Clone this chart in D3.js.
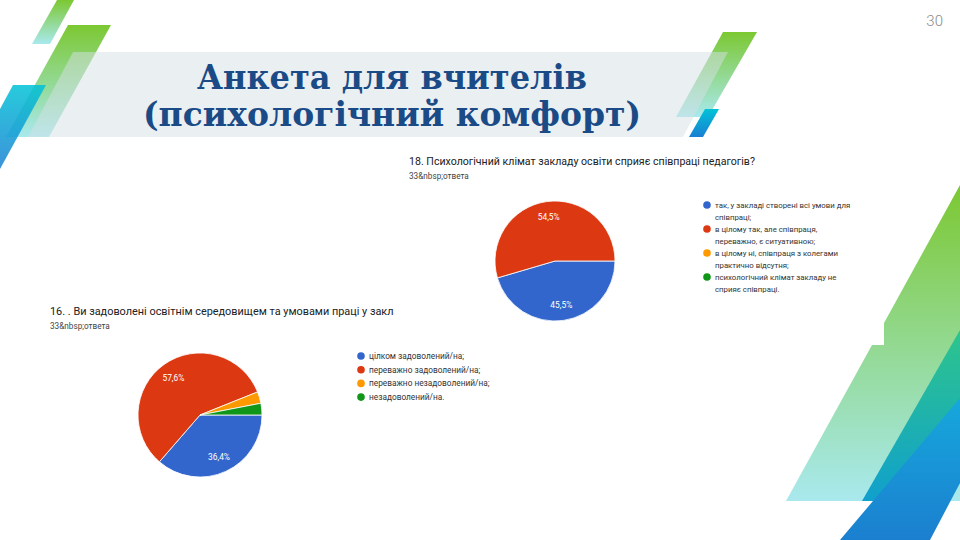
<!DOCTYPE html>
<html>
<head>
<meta charset="utf-8">
<script src="https://cdn.jsdelivr.net/npm/d3@7"></script>
<style>
  html, body { margin: 0; padding: 0; background: #fff; }
  svg { display: block; }
</style>
</head>
<body>
<div id="slide"></div>
<script>
// --- data -------------------------------------------------------------
const sliceColors = ["#3366cc", "#dc3912", "#ff9900", "#109618"];

const q18Title = "18.  Психологічний клімат закладу освіти сприяє співпраці педагогів?";
const q18Labels = [
  ["так, у закладі створені всі умови для", "співпраці;"],
  ["в цілому так, але співпраця,", "переважно, є ситуативною;"],
  ["в цілому ні, співпраця з колегами", "практично відсутня;"],
  ["психологічний клімат закладу не", "сприяє співпраці."]
];
const q18Values = [15, 18, 0, 0];

const q16Title = "16. . Ви задоволені освітнім середовищем та умовами праці у закладі?";
const q16Labels = [
  ["цілком задоволений/на;"],
  ["переважно задоволений/на;"],
  ["переважно незадоволений/на;"],
  ["незадоволений/на."]
];
const q16Values = [12, 19, 1, 1];

const answersText = "33&nbsp;ответа";
const slideTitle = ["Анкета для вчителів", "(психологічний комфорт)"];
const pageNumber = "30";

// --- decorative shapes (not data) ------------------------------------
const shapes = [
  {fill: "gLime", pts: [[57,0],[74,0],[50,44],[32,44]]},
  {fill: "gLime", pts: [[68,25],[111,25],[49,137],[6,137]]},
  {fill: "gBlue", pts: [[13,85],[46,85],[0,169],[0,109]], op: 0.85},
  {fill: "gLime", pts: [[723,32],[757,32],[708,117],[676,117]]},
  {fill: "gBlue", pts: [[705,109],[719,109],[703,137],[689,137]]},
  {fill: "gLimeBig", pts: [[960,185],[884,323],[884,345],[872,345],[786,501],[960,501]]},
  {fill: "gTeal", pts: [[960,330],[862,501],[908,501],[960,410]]},
  {fill: "gBlueBig", pts: [[960,398],[840,540],[930,540],[960,483]]}
];
const banner = [[73,52],[728,52],[683,137],[28,137]];

const width = 960;
const height = 540;

const svg = d3.select("#slide").append("svg")
    .attr("width", width)
    .attr("height", height)
    .attr("viewBox", [0, 0, width, height]);

const defs = svg.append("defs");

function linear(id, stops) {
  const g = defs.append("linearGradient")
      .attr("id", id)
      .attr("x1", 0).attr("y1", 0).attr("x2", 0).attr("y2", 1);
  stops.forEach(([o, c]) => g.append("stop").attr("offset", o).attr("stop-color", c));
}
linear("gLime", [[0, "#7cc832"], [1, "#a8e9ee"]]);
linear("gLimeBig", [[0, "#7cc832"], [1, "#a9e9ee"]]);
linear("gBlue", [[0, "#00c2d6"], [1, "#1a7fd3"]]);
linear("gTeal", [[0, "#2ec58c"], [1, "#10a0cc"]]);
linear("gBlueBig", [[0, "#16a8dc"], [1, "#1b7fcf"]]);

defs.append("clipPath")
    .attr("id", "clipQ16")
    .append("rect")
    .attr("x", 0).attr("y", 290).attr("width", 394).attr("height", 40);

const line = d3.line();

svg.append("g")
  .selectAll("path")
  .data(shapes)
  .join("path")
    .attr("d", d => line(d.pts) + "Z")
    .attr("fill", d => `url(#${d.fill})`)
    .attr("fill-opacity", d => d.op || 1);

svg.append("path")
    .attr("d", line(banner) + "Z")
    .attr("fill", "#d5dfe5")
    .attr("fill-opacity", 0.5);

// slide title
const titleWidths = [390, 498];
svg.append("g")
  .selectAll("text")
  .data(slideTitle)
  .join("text")
    .attr("x", 392)
    .attr("y", (d, i) => 89 + i * 37)
    .attr("text-anchor", "middle")
    .attr("textLength", (d, i) => titleWidths[i])
    .attr("lengthAdjust", "spacingAndGlyphs")
    .attr("font-family", "DejaVu Serif")
    .attr("font-weight", "bold")
    .attr("font-size", 34)
    .attr("fill", "#1b4b86")
    .text(d => d);

svg.append("text")
    .attr("x", 943)
    .attr("y", 26)
    .attr("text-anchor", "end")
    .attr("font-family", "Roboto")
    .attr("font-weight", 300)
    .attr("font-size", 15)
    .attr("fill", "#8a8a8a")
    .text(pageNumber);

// --- pie chart helper --------------------------------------------------
function pieChart(opts) {
  const {title, values, labels, cx, cy, r, titleX, titleY, titleSize, legendX, legendY,
         legendGap, lineGap, legendSize, clip} = opts;
  const total = d3.sum(values);
  const g = svg.append("g");

  const head = g.append("g");
  if (clip) head.attr("clip-path", `url(#${clip})`);
  head.append("text")
      .attr("x", titleX)
      .attr("y", titleY)
      .attr("font-family", "Roboto")
      .attr("font-size", titleSize)
      .attr("fill", "#202124")
      .text(title);
  g.append("text")
      .attr("x", titleX)
      .attr("y", titleY + 14)
      .attr("font-family", "Roboto")
      .attr("font-size", 8.2)
      .attr("fill", "#444")
      .text(answersText);

  const pie = d3.pie()
      .sort(null)
      .value(d => d)
      .startAngle(Math.PI / 2)
      .endAngle(Math.PI / 2 + 2 * Math.PI);
  const arc = d3.arc().innerRadius(0).outerRadius(r);
  const labelArc = d3.arc().innerRadius(r * 0.74).outerRadius(r * 0.74);
  const arcs = pie(values);

  const pg = g.append("g").attr("transform", `translate(${cx},${cy})`);
  pg.selectAll("path")
    .data(arcs.filter(d => d.value > 0))
    .join("path")
      .attr("d", arc)
      .attr("fill", d => sliceColors[d.index])
      .attr("stroke", "#fff")
      .attr("stroke-width", 0.8);

  pg.selectAll("text")
    .data(arcs.filter(d => d.value / total >= 0.05))
    .join("text")
      .attr("transform", d => `translate(${labelArc.centroid(d)})`)
      .attr("text-anchor", "middle")
      .attr("dy", "0.35em")
      .attr("font-family", "Roboto")
      .attr("font-size", 8.4)
      .attr("fill", "#fff")
      .text(d => (d.value / total * 100).toFixed(1).replace(".", ",") + "%");

  // legend
  const lg = g.append("g");
  let y = legendY;
  labels.forEach((lines, i) => {
    lg.append("circle")
        .attr("cx", legendX)
        .attr("cy", y)
        .attr("r", 3.8)
        .attr("fill", sliceColors[i]);
    const t = lg.append("text")
        .attr("x", legendX + 8)
        .attr("y", y)
        .attr("dy", "0.35em")
        .attr("font-family", "Roboto")
        .attr("font-size", legendSize)
        .attr("fill", "#333");
    lines.forEach((s, j) => {
      t.append("tspan")
          .attr("x", legendX + 8)
          .attr("dy", j === 0 ? "0.35em" : lineGap)
          .text(s);
    });
    y += legendGap + (lines.length - 1) * lineGap;
  });
}

pieChart({
  title: q18Title, values: q18Values, labels: q18Labels,
  cx: 555, cy: 261, r: 60,
  titleX: 409, titleY: 165, titleSize: 10.6,
  legendX: 707, legendY: 205, legendGap: 12, lineGap: 12, legendSize: 7.8
});

pieChart({
  title: q16Title, values: q16Values, labels: q16Labels,
  cx: 200, cy: 415, r: 62,
  titleX: 50, titleY: 315, titleSize: 10.9,
  legendX: 361, legendY: 356, legendGap: 13.7, lineGap: 12, legendSize: 8.3,
  clip: "clipQ16"
});
</script>
</body>
</html>
